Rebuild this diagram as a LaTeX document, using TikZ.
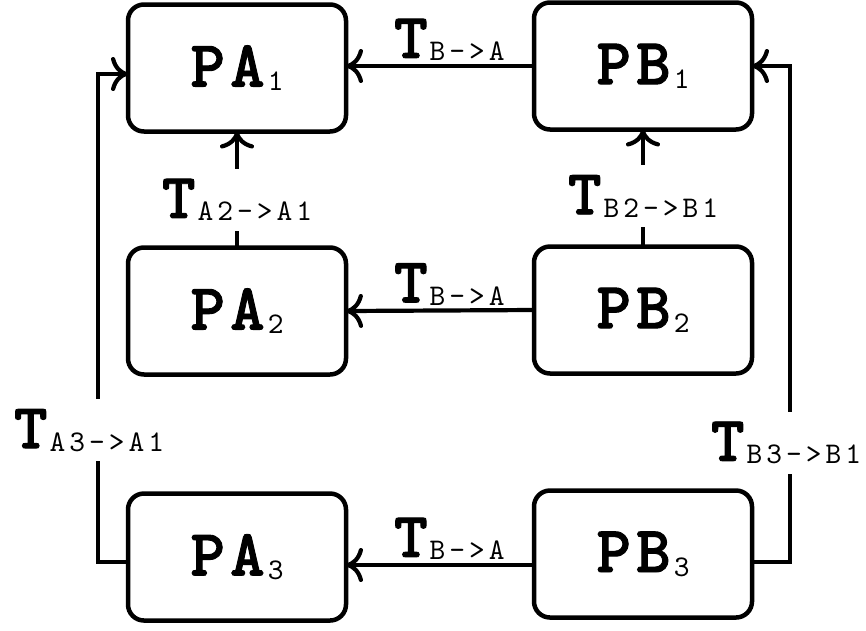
\documentclass[tikz,border=0pt]{standalone}
\usepackage{fontspec}
\usetikzlibrary{arrows.meta}

% slab typewriter faces: heavy for names, light for indices
\newfontfamily\heavytt{lmmonolt10-bold.otf}[FakeBold=1.4]
\newfontfamily\lighttt{lmmono10-regular.otf}

% big bold typewriter name with a small index
\newcommand\procname[3]{{\fontsize{66}{66}\selectfont\heavytt #1\kern5pt #2}\kern3pt\raisebox{-4pt}{\fontsize{30}{30}\selectfont\lighttt #3}}
% transfer label: bold T with a spaced-out subscript
\newcommand\trans[1]{{\fontsize{64}{64}\selectfont\heavytt T}\kern2pt\raisebox{-3pt}{\fontsize{30}{30}\selectfont\lighttt #1}}
\newcommand\gap{\kern4pt}

\tikzset{
  proc/.style={draw, line width=4.5pt, rounded corners=16pt,
    minimum width=218pt, minimum height=127pt, inner sep=0pt, outer sep=0pt},
  conn/.style={line width=4.2pt,
    -{Computer Modern Rightarrow[length=17pt,width=34pt]}},
  hlab/.style={above=3pt, inner sep=0pt, pos=0.45},
  vlab/.style={fill=white, inner xsep=2pt, inner ysep=10pt}
}

\begin{document}
\begin{tikzpicture}[x=1pt, y=-1pt]
  \useasboundingbox (0,0) rectangle (866,630);

  % processes
  \node[proc] (PA1) at (237,68)  {\procname{P}{A}{1}};
  \node[proc] (PB1) at (643,66)  {\procname{P}{B}{1}};
  \node[proc] (PA2) at (237,311) {\procname{P}{A}{2}};
  \node[proc] (PB2) at (643,310) {\procname{P}{B}{2}};
  \node[proc] (PA3) at (237,557) {\procname{P}{A}{3}};
  \node[proc] (PB3) at (643,554) {\procname{P}{B}{3}};

  % helper levels for the connectors
  \coordinate (row1) at (0,66);
  \coordinate (row3) at (0,565);
  \coordinate (loopin) at (0,74);
  \coordinate (loopout) at (0,562);
  \coordinate (xl) at (98,0);
  \coordinate (xr) at (790,0);

  % transfers from B to A on each level
  \draw[conn] (PB1.west |- row1) -- node[hlab] {\trans{B\gap-\gap>\gap A}} (PA1.east |- row1);
  \draw[conn] (PB2.west) -- node[hlab] {\trans{B\gap-\gap>\gap A}} (PA2.east);
  \draw[conn] (PB3.west |- row3) -- node[hlab] {\trans{B\gap-\gap>\gap A}} (PA3.east |- row3);

  % transfers from level 2 to level 1
  \draw[conn] (PA2.north) -- node[vlab, pos=0.41] {\trans{A\gap2\gap-\gap>\gap A\gap1}} (PA1.south);
  \draw[conn] (PB2.north) -- node[vlab, pos=0.43] {\trans{B\gap2\gap-\gap>\gap B\gap1}} (PB1.south);

  % transfers from level 3 to level 1 around the outside
  \draw[conn] (PA3.west |- loopout) -- (xl |- loopout)
    -- node[vlab, pos=0.27, xshift=-9pt] {\trans{A\gap3\gap-\gap>\gap A\gap1}} (xl |- loopin)
    -- (PA1.west |- loopin);
  \draw[conn] (PB3.east |- loopout) -- (xr |- loopout)
    -- node[vlab, pos=0.24, xshift=-4pt] {\trans{B\gap3\gap-\gap>\gap B\gap1}} (xr |- row1)
    -- (PB1.east |- row1);
\end{tikzpicture}
\end{document}
